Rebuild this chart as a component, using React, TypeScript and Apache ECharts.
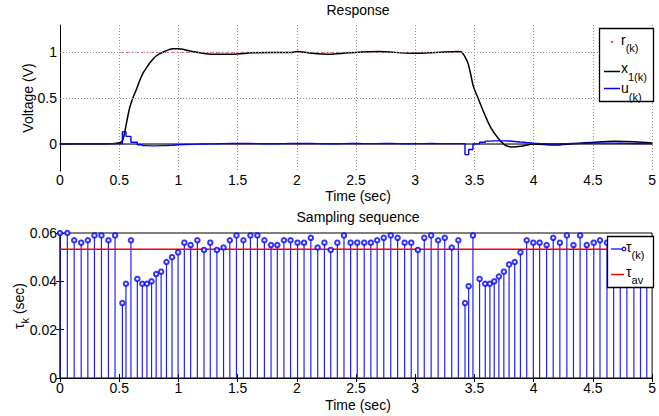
import { useEffect, useRef } from "react";
import * as echarts from "echarts";

const FONT = "'Liberation Sans', Arial, Helvetica, sans-serif";

// sampling instants t_k (sec) and the interval tau_k used at each one
const sampleTimes = [
  0.0, 0.062, 0.12, 0.179, 0.235, 0.291, 0.35, 0.409, 0.465, 0.527,
  0.557, 0.599, 0.653, 0.695, 0.734, 0.773, 0.812, 0.854, 0.899, 0.946,
  0.997, 1.05, 1.103, 1.16, 1.216, 1.269, 1.325, 1.381, 1.434, 1.49,
  1.549, 1.608, 1.667, 1.726, 1.782, 1.835, 1.891, 1.947, 2.006, 2.061,
  2.118, 2.176, 2.233, 2.286, 2.342, 2.398, 2.454, 2.51, 2.569, 2.625,
  2.678, 2.734, 2.793, 2.851, 2.91, 2.966, 3.022, 3.076, 3.134, 3.193,
  3.249, 3.308, 3.364, 3.42, 3.451, 3.487, 3.543, 3.591, 3.63, 3.667,
  3.706, 3.748, 3.792, 3.84, 3.888, 3.941, 3.997, 4.05, 4.109, 4.165,
  4.221, 4.28, 4.336, 4.392, 4.448, 4.507, 4.56, 4.619, 4.675, 4.731,
  4.787, 4.846, 4.902, 4.955,
];
const tauValues = [
  0.06, 0.06, 0.057, 0.056, 0.057, 0.059, 0.059, 0.057, 0.059, 0.031,
  0.039, 0.057, 0.041, 0.039, 0.039, 0.04, 0.043, 0.044, 0.048, 0.05,
  0.052, 0.056, 0.055, 0.057, 0.053, 0.056, 0.053, 0.054, 0.057, 0.059,
  0.057, 0.059, 0.059, 0.057, 0.055, 0.055, 0.057, 0.057, 0.056, 0.056,
  0.058, 0.054, 0.056, 0.053, 0.056, 0.059, 0.056, 0.056, 0.056, 0.056,
  0.057, 0.058, 0.059, 0.058, 0.056, 0.056, 0.053, 0.058, 0.059, 0.057,
  0.058, 0.054, 0.057, 0.031, 0.038, 0.059, 0.041, 0.039, 0.039, 0.04,
  0.042, 0.044, 0.047, 0.048, 0.052, 0.057, 0.056, 0.056, 0.055, 0.058,
  0.056, 0.059, 0.055, 0.059, 0.055, 0.056, 0.057, 0.056, 0.056, 0.056,
  0.057, 0.056, 0.056, 0.055,
];
const tauAverage = 0.0533;

// control input u_(k), held between samples
const uValues = [
  0, 0, 0, 0, 0, 0, 0, 0, 0, 0.13,
  0.08, 0.015, -0.012, -0.022, -0.025, -0.025, -0.022, -0.02, -0.017, -0.013,
  -0.01, -0.008, -0.006, -0.004, -0.003, -0.002, 0, 0.002, 0.003, 0.002,
  0.001, 0, -0.001, -0.002, -0.001, 0, 0.001, 0.002, 0.002, 0.001,
  0, -0.001, -0.002, -0.001, 0, 0.001, 0.001, 0, 0, 0,
  0.001, 0.001, 0, -0.001, -0.001, 0, 0, 0.001, 0, 0,
  0, 0, 0, -0.12, -0.065, -0.003, 0.015, 0.027, 0.03, 0.03,
  0.03, 0.028, 0.024, 0.018, 0.012, 0.006, 0.002, -0.002, -0.003, -0.002,
  0, 0.002, 0.003, 0.004, 0.005, 0.006, 0.006, 0.005, 0.004, 0.003,
  0.002, 0.001, 0, 0,
];

// plant output x_1(k)
const x1Times = [
  0, 0.3, 0.45, 0.5, 0.527, 0.546, 0.565, 0.588, 0.615, 0.644,
  0.67, 0.7, 0.73, 0.756, 0.785, 0.812, 0.85, 0.882, 0.92, 0.952,
  1.0, 1.036, 1.08, 1.12, 1.2, 1.29, 1.456, 1.62, 1.79, 1.96,
  2.0, 2.13, 2.27, 2.437, 2.69, 2.97, 3.19, 3.36, 3.39, 3.42,
  3.445, 3.47, 3.49, 3.53, 3.586, 3.64, 3.7, 3.754, 3.81, 3.89,
  4.006, 4.17, 4.34, 4.51, 4.68, 4.85, 5.0,
];
const x1Values = [
  -0.003, -0.002, 0, 0.01, 0.03, 0.12, 0.25, 0.39, 0.5, 0.59,
  0.68, 0.77, 0.83, 0.88, 0.925, 0.96, 0.99, 1.01, 1.03, 1.04,
  1.04, 1.035, 1.02, 1.01, 0.99, 0.98, 0.98, 0.995, 1.0, 1.0,
  1.01, 0.99, 0.98, 0.995, 1.01, 0.99, 1.0, 1.01, 1.005, 0.95,
  0.88, 0.75, 0.63, 0.5, 0.32, 0.17, 0.06, -0.01, -0.036, -0.03,
  -0.004, -0.015, 0, 0.015, 0.025, 0.02, 0.008,
];

// reference r_(k): one [start, end, level] per constant piece
const refPieces = [
  [0, 0.5, 0],
  [0.52, 3.4, 1],
  [3.45, 5.0, 0],
];

const timeMin = 0;
const timeMax = 5;
const timeStep = 0.5;
const voltageMin = -0.3;
const voltageMax = 1.3;
const voltageLabels = [0, 0.5, 1];
const tauMax = 0.06;
const tauStep = 0.02;

const subText = (main: string, sub: string, x: number, y: number) => ({
  type: "text",
  x,
  y,
  z: 100,
  style: {
    text: `{m|${main}}{s|${sub}}`,
    verticalAlign: "top",
    rich: {
      m: { fontSize: 14, fontFamily: FONT, fill: "#000", lineHeight: 16, verticalAlign: "top" },
      s: {
        fontSize: 11,
        fontFamily: FONT,
        fill: "#000",
        lineHeight: 12,
        padding: [10, 0, 0, 0],
        verticalAlign: "top",
      },
    },
  },
});

const plainText = (text: string, x: number, y: number, rotation = 0) => ({
  type: "text",
  x,
  y,
  z: 100,
  rotation,
  style: {
    text,
    fontSize: 14,
    fontFamily: FONT,
    fill: "#000",
    align: "center",
    verticalAlign: "middle",
  },
});

const App = () => {
  const chartRef = useRef<HTMLDivElement>(null);

  useEffect(() => {
    if (!chartRef.current) return;
    const chart = echarts.init(chartRef.current, null, { renderer: "svg" });

    const uData = sampleTimes.map((t, i) => [t, uValues[i]]);
    uData.push([timeMax, uValues[uValues.length - 1]]);
    const x1Data = x1Times.map((t, i) => [t, x1Values[i]]);
    const stemData = sampleTimes.map((t, i) => [t, tauValues[i]]);

    const gridLine = { color: "#8c8c8c", type: [1, 2], width: 1, opacity: 1 };
    const labelStyle = { fontSize: 14, fontFamily: FONT, color: "#000" };
    const timeAxis = {
      type: "value",
      min: timeMin,
      max: timeMax,
      interval: timeStep,
      axisLabel: { ...labelStyle, margin: 2 },
    };

    const refSeries = refPieces.map(([a, b, v]) => ({
      type: "line",
      xAxisIndex: 0,
      yAxisIndex: 0,
      data: [
        [a, v],
        [b, v],
      ],
      showSymbol: false,
      silent: true,
      lineStyle: { color: "#ff3b3b", width: 1, type: [2, 3] },
      z: 3,
    }));

    const option: any = {
      animation: false,
      backgroundColor: "#fff",
      grid: [
        { left: 60, top: 25, width: 596, height: 146 },
        {
          left: 60,
          top: 233,
          width: 596,
          height: 145,
          show: true,
          borderColor: "#000",
          borderWidth: 1,
          backgroundColor: "transparent",
        },
      ],
      xAxis: [
        {
          ...timeAxis,
          gridIndex: 0,
          axisLine: { lineStyle: { color: "#6e6e6e", width: 2 } },
          axisTick: { show: false },
          splitLine: { show: true, lineStyle: gridLine },
        },
        {
          ...timeAxis,
          gridIndex: 1,
          axisLabel: { ...labelStyle, margin: 3 },
          axisLine: { lineStyle: { color: "#000", width: 1 } },
          axisTick: { inside: true, length: 4, lineStyle: { color: "#000" } },
          splitLine: { show: false },
        },
        {
          ...timeAxis,
          gridIndex: 1,
          position: "top",
          axisLabel: { show: false },
          axisLine: { lineStyle: { color: "#000", width: 1 } },
          axisTick: { inside: true, length: 4, lineStyle: { color: "#000" } },
          splitLine: { show: false },
        },
      ],
      yAxis: [
        {
          type: "value",
          gridIndex: 0,
          min: voltageMin,
          max: voltageMax,
          interval: 0.1,
          axisLine: { show: true, lineStyle: { color: "#000", width: 1 } },
          axisTick: { show: false },
          splitLine: { show: false },
          axisLabel: {
            ...labelStyle,
            margin: 3,
            formatter: (v: number) => {
              const hit = voltageLabels.find((g) => Math.abs(g - v) < 1e-6);
              return hit === undefined ? "" : String(hit);
            },
          },
        },
        {
          type: "value",
          gridIndex: 1,
          min: 0,
          max: tauMax,
          interval: tauStep,
          axisLine: { show: true, lineStyle: { color: "#000", width: 1 } },
          axisTick: { inside: true, length: 4, lineStyle: { color: "#000" } },
          splitLine: { show: false },
          axisLabel: { ...labelStyle, margin: 3 },
        },
        {
          type: "value",
          gridIndex: 1,
          position: "right",
          min: 0,
          max: tauMax,
          interval: tauStep,
          axisLine: { show: true, lineStyle: { color: "#000", width: 1 } },
          axisTick: { inside: true, length: 4, lineStyle: { color: "#000" } },
          splitLine: { show: false },
          axisLabel: { show: false },
        },
      ],
      series: [
        {
          name: "grid",
          type: "line",
          xAxisIndex: 0,
          yAxisIndex: 0,
          data: [],
          showSymbol: false,
          silent: true,
          z: 1,
          markLine: {
            silent: true,
            symbol: ["none", "none"],
            label: { show: false },
            lineStyle: gridLine,
            data: voltageLabels.map((v) => ({ yAxis: v })),
          },
        },
        ...refSeries,
        {
          name: "x1",
          type: "line",
          xAxisIndex: 0,
          yAxisIndex: 0,
          data: x1Data,
          showSymbol: false,
          smooth: 0.3,
          lineStyle: { color: "#000", width: 1.5 },
          z: 4,
        },
        {
          name: "u",
          type: "line",
          xAxisIndex: 0,
          yAxisIndex: 0,
          data: uData,
          step: "end",
          showSymbol: false,
          lineStyle: { color: "#0000ff", width: 1.4 },
          z: 5,
        },
        {
          name: "stems",
          type: "bar",
          xAxisIndex: 1,
          yAxisIndex: 1,
          data: stemData,
          barWidth: 1.2,
          itemStyle: { color: "#2020ff" },
        },
        {
          name: "tau av",
          type: "line",
          xAxisIndex: 1,
          yAxisIndex: 1,
          data: [
            [timeMin, tauAverage],
            [timeMax, tauAverage],
          ],
          showSymbol: false,
          lineStyle: { color: "#ff0000", width: 1.5 },
          z: 4,
        },
        {
          name: "tau",
          type: "scatter",
          xAxisIndex: 1,
          yAxisIndex: 1,
          data: stemData,
          symbol: "emptyCircle",
          symbolSize: 4.5,
          itemStyle: { color: "#0000ff", borderColor: "#0000ff", borderWidth: 1.2 },
          z: 5,
        },
      ],
      graphic: [
        plainText("Response", 358, 9.5),
        plainText("Time (sec)", 358, 196),
        plainText("Voltage (V)", 28, 98, Math.PI / 2),
        plainText("Sampling sequence", 358, 216.5),
        plainText("Time (sec)", 358, 405),
        {
          type: "text",
          x: 19.5,
          y: 306,
          z: 100,
          rotation: Math.PI / 2,
          style: {
            text: "{m|τ}{s|k}{m| (sec)}",
            align: "center",
            verticalAlign: "middle",
            rich: {
              m: { fontSize: 14, fontFamily: FONT, fill: "#000", lineHeight: 16, verticalAlign: "top" },
              s: {
                fontSize: 11,
                fontFamily: FONT,
                fill: "#000",
                lineHeight: 12,
                padding: [8, 0, 0, 0],
                verticalAlign: "top",
              },
            },
          },
        },
        // legend of the response plot
        {
          type: "rect",
          z: 99,
          shape: { x: 599.5, y: 28.5, width: 54, height: 73 },
          style: { fill: "#fff", stroke: "#000", lineWidth: 1.3 },
        },
        { type: "circle", z: 100, shape: { cx: 612, cy: 42, r: 0.9 }, style: { fill: "#ff0000" } },
        subText("r", "(k)", 621, 32.5),
        {
          type: "line",
          z: 100,
          shape: { x1: 604, y1: 71.5, x2: 620, y2: 71.5 },
          style: { stroke: "#000", lineWidth: 1.5 },
        },
        subText("x", "1(k)", 621, 61),
        {
          type: "line",
          z: 100,
          shape: { x1: 604, y1: 88.5, x2: 620, y2: 88.5 },
          style: { stroke: "#0000ff", lineWidth: 1.5 },
        },
        subText("u", "(k)", 621, 81),
        // legend of the sampling plot
        {
          type: "rect",
          z: 99,
          shape: { x: 607.5, y: 236.5, width: 46, height: 51 },
          style: { fill: "#fff", stroke: "#000", lineWidth: 1.3 },
        },
        {
          type: "line",
          z: 100,
          shape: { x1: 611, y1: 249, x2: 624, y2: 249 },
          style: { stroke: "#0000ff", lineWidth: 1.2 },
        },
        {
          type: "circle",
          z: 100,
          shape: { cx: 624, cy: 249, r: 1.8 },
          style: { fill: "#fff", stroke: "#0000ff", lineWidth: 1.2 },
        },
        subText("τ", "(k)", 626, 239.5),
        {
          type: "line",
          z: 100,
          shape: { x1: 611, y1: 274.5, x2: 624, y2: 274.5 },
          style: { stroke: "#ff0000", lineWidth: 1.5 },
        },
        subText("τ", "av", 626, 264.5),
      ],
    };

    chart.setOption(option);
    return () => {
      chart.dispose();
    };
  }, []);

  return (
    <div
      ref={chartRef}
      style={{ position: "absolute", left: 0, top: 0, width: 659, height: 416 }}
    />
  );
};

export default App;
